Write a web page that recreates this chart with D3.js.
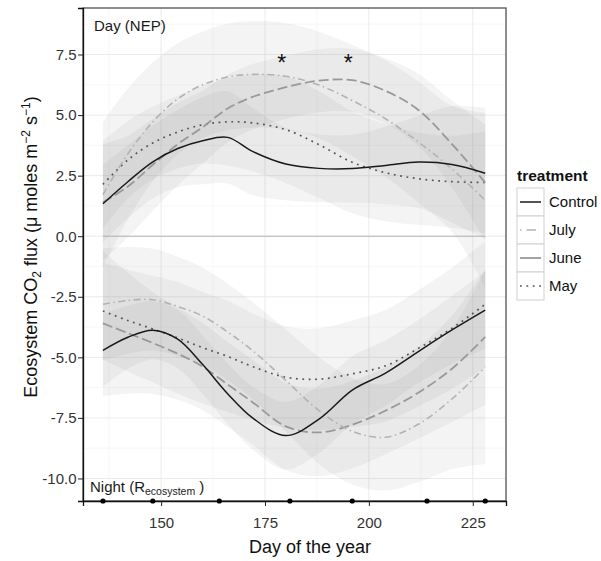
<!DOCTYPE html>
<html>
<head>
<meta charset="utf-8">
<script src="https://cdn.jsdelivr.net/npm/d3@7"></script>
<style>
  body { margin: 0; background: #fff; }
  svg { font-family: "Liberation Sans", Arial, Helvetica, sans-serif; }
</style>
</head>
<body>
<svg id="chart" width="601" height="561"></svg>
<script>
// sample days shared by all smoothed curves
var days = [136, 142, 148, 154, 160, 166, 172, 180, 188, 196, 204, 212, 220, 228];

// daytime NEP (upper half)
var controlDay = [1.34, 2.25, 3.07, 3.62, 3.94, 4.08, 3.50, 2.98, 2.80, 2.79, 2.92, 3.06, 2.96, 2.60];
var julyDay    = [1.72, 3.40, 4.72, 5.67, 6.25, 6.57, 6.68, 6.60, 6.24, 5.60, 4.85, 3.88, 2.78, 1.48];
var juneDay    = [1.40, 2.05, 2.95, 3.80, 4.50, 5.27, 5.75, 6.15, 6.42, 6.44, 6.00, 5.20, 3.80, 2.21];
var mayDay     = [2.14, 3.15, 3.85, 4.30, 4.60, 4.72, 4.68, 4.40, 3.78, 3.05, 2.62, 2.37, 2.25, 2.22];

// confidence half widths, day
var controlDaySe = [1.6, 1.5, 1.5, 1.6, 1.8, 1.9, 1.8, 1.5, 1.4, 1.4, 1.6, 1.9, 2.4, 2.7];
var julyDaySe    = [3.0, 2.7, 2.45, 2.3, 2.2, 2.2, 2.2, 2.2, 2.2, 2.3, 2.4, 2.5, 2.6, 3.6];
var juneDaySe    = [2.4, 2.1, 1.9, 1.7, 1.5, 1.4, 1.35, 1.3, 1.3, 1.3, 1.35, 1.5, 1.8, 2.4];
var mayDaySe     = [1.8, 1.6, 1.5, 1.5, 1.6, 1.8, 2.0, 2.2, 2.2, 2.1, 2.0, 1.9, 1.9, 2.1];

// night respiration (lower half)
var controlNight = [-4.71, -4.17, -3.88, -4.25, -5.30, -6.50, -7.50, -8.23, -7.55, -6.35, -5.65, -4.75, -3.87, -3.05];
var julyNight    = [-2.81, -2.65, -2.62, -2.90, -3.30, -3.95, -4.72, -5.95, -7.20, -8.05, -8.30, -7.75, -6.72, -5.40];
var juneNight    = [-3.60, -4.00, -4.41, -4.85, -5.38, -6.12, -6.85, -7.85, -8.10, -7.78, -7.20, -6.45, -5.47, -4.16];
var mayNight     = [-3.09, -3.48, -3.83, -4.20, -4.60, -4.96, -5.38, -5.82, -5.90, -5.68, -5.35, -4.62, -3.80, -2.81];

var controlNightSe = [1.5, 1.3, 1.2, 1.2, 1.2, 1.25, 1.3, 1.4, 1.4, 1.4, 1.35, 1.3, 1.4, 1.6];
var julyNightSe    = [2.3, 2.2, 2.1, 2.05, 2.0, 2.0, 2.0, 2.1, 2.2, 2.2, 2.2, 2.4, 2.9, 4.0];
var juneNightSe    = [3.0, 2.5, 2.1, 1.9, 1.8, 1.75, 1.75, 1.8, 1.8, 1.8, 1.8, 1.9, 2.2, 2.8];
var mayNightSe     = [2.0, 2.1, 2.2, 2.3, 2.3, 2.3, 2.2, 2.1, 2.1, 2.2, 2.3, 2.4, 2.5, 2.6];

var sampleDays = [136, 148, 164, 181, 196, 214, 228];
var starDays = [179, 195];
var starValue = 7.4;

var treatments = ["Control", "July", "June", "May"];
var xTicks = [150, 175, 200, 225];
var yTicks = [-10, -7.5, -5, -2.5, 0, 2.5, 5, 7.5];

var styles = {
    Control: {stroke: "#1a1a1a", width: 1.5, dash: null},
    July:    {stroke: "#b3b3b3", width: 1.6, dash: "7,3.5,1.5,3.5"},
    June:    {stroke: "#999999", width: 1.8, dash: "10,4"},
    May:     {stroke: "#555555", width: 1.7, dash: "1.8,4.6"}
};

var series = [
    {key: "Control", day: controlDay, daySe: controlDaySe, night: controlNight, nightSe: controlNightSe},
    {key: "July", day: julyDay, daySe: julyDaySe, night: julyNight, nightSe: julyNightSe},
    {key: "June", day: juneDay, daySe: juneDaySe, night: juneNight, nightSe: juneNightSe},
    {key: "May", day: mayDay, daySe: mayDaySe, night: mayNight, nightSe: mayNightSe}
];

var svg = d3.select("#chart");
var panel = {left: 83, top: 8, right: 506, bottom: 501};

var x = d3.scaleLinear().domain([131.2, 233]).range([panel.left, panel.right]);
var y = d3.scaleLinear().domain([-10.93, 9.42]).range([panel.bottom, panel.top]);

svg.append("defs").append("clipPath").attr("id", "panelClip")
    .append("rect")
    .attr("x", panel.left).attr("y", panel.top)
    .attr("width", panel.right - panel.left).attr("height", panel.bottom - panel.top);

// grid
var grid = svg.append("g");
var minorX = [137.5, 162.5, 187.5, 212.5];
var minorY = [-8.75, -6.25, -3.75, -1.25, 1.25, 3.75, 6.25, 8.75];
grid.selectAll(".mx").data(minorX).enter().append("line")
    .attr("x1", d => x(d)).attr("x2", d => x(d))
    .attr("y1", panel.top).attr("y2", panel.bottom)
    .attr("stroke", "#f4f4f4").attr("stroke-width", 0.7);
grid.selectAll(".my").data(minorY).enter().append("line")
    .attr("y1", d => y(d)).attr("y2", d => y(d))
    .attr("x1", panel.left).attr("x2", panel.right)
    .attr("stroke", "#f4f4f4").attr("stroke-width", 0.7);
grid.selectAll(".gx").data(xTicks).enter().append("line")
    .attr("x1", d => x(d)).attr("x2", d => x(d))
    .attr("y1", panel.top).attr("y2", panel.bottom)
    .attr("stroke", "#ebebeb").attr("stroke-width", 1);
grid.selectAll(".gy").data(yTicks).enter().append("line")
    .attr("y1", d => y(d)).attr("y2", d => y(d))
    .attr("x1", panel.left).attr("x2", panel.right)
    .attr("stroke", "#ebebeb").attr("stroke-width", 1);

var plot = svg.append("g").attr("clip-path", "url(#panelClip)");

var curve = d3.curveCatmullRom.alpha(0.5);

function ribbon(vals, se) {
    return d3.area()
        .curve(curve)
        .x((d, i) => x(days[i]))
        .y0((d, i) => y(vals[i] - se[i]))
        .y1((d, i) => y(vals[i] + se[i]))(days);
}

function lineOf(vals) {
    return d3.line()
        .curve(curve)
        .x((d, i) => x(days[i]))
        .y((d, i) => y(vals[i]))(days);
}

// ribbons
series.forEach(function(s) {
    plot.append("path").attr("d", ribbon(s.day, s.daySe))
        .attr("fill", "#808080").attr("fill-opacity", 0.09);
    plot.append("path").attr("d", ribbon(s.night, s.nightSe))
        .attr("fill", "#808080").attr("fill-opacity", 0.09);
});

// zero line
plot.append("line")
    .attr("x1", x(days[0])).attr("x2", x(days[days.length - 1]))
    .attr("y1", y(0)).attr("y2", y(0))
    .attr("stroke", "#b3b3b3").attr("stroke-width", 1);

// curves, drawn May first so Control sits on top
series.slice().reverse().forEach(function(s) {
    var st = styles[s.key];
    [s.day, s.night].forEach(function(vals) {
        plot.append("path").attr("d", lineOf(vals))
            .attr("fill", "none")
            .attr("stroke", st.stroke)
            .attr("stroke-width", st.width)
            .attr("stroke-dasharray", st.dash);
    });
});

// asterisks
svg.selectAll(".star").data(starDays).enter().append("text")
    .attr("x", d => x(d)).attr("y", y(starValue) + 14)
    .attr("text-anchor", "middle")
    .attr("font-size", 23).attr("fill", "#111")
    .text("*");

// panel labels
svg.append("text").attr("x", 94).attr("y", 31)
    .attr("font-size", 15).attr("fill", "#1a1a1a").text("Day (NEP)");
var night = svg.append("text").attr("x", 90).attr("y", 492)
    .attr("font-size", 15).attr("fill", "#1a1a1a");
night.append("tspan").text("Night (R");
night.append("tspan").attr("font-size", 10.5).attr("dy", 3).text("ecosystem");
night.append("tspan").attr("dy", -3).text(" )");

// border
svg.append("rect")
    .attr("x", panel.left).attr("y", panel.top)
    .attr("width", panel.right - panel.left).attr("height", panel.bottom - panel.top)
    .attr("fill", "none").attr("stroke", "#444").attr("stroke-width", 1.2);

// axes
var xAxis = svg.append("g")
    .attr("transform", "translate(0," + panel.bottom + ")")
    .call(d3.axisBottom(x).tickValues(xTicks).tickSize(5).tickPadding(11));
var yAxis = svg.append("g")
    .attr("transform", "translate(" + panel.left + ",0)")
    .call(d3.axisLeft(y).tickValues(yTicks).tickSize(5).tickPadding(1.5)
        .tickFormat(d => d.toFixed(1)));
[xAxis, yAxis].forEach(function(a) {
    a.select(".domain").attr("stroke", "#111").attr("stroke-width", 1.3);
    a.selectAll(".tick line").attr("stroke", "#222");
    a.selectAll(".tick text").attr("font-size", 15).attr("fill", "#333")
        .attr("font-family", "'Liberation Sans', Arial, sans-serif");
});

// sample-day rug on the x axis
svg.selectAll(".rug").data(sampleDays).enter().append("circle")
    .attr("cx", d => x(d)).attr("cy", panel.bottom).attr("r", 2.6)
    .attr("fill", "#000");

// axis titles
svg.append("text").attr("x", 310).attr("y", 553)
    .attr("text-anchor", "middle").attr("font-size", 18).attr("fill", "#111")
    .text("Day of the year");

var yt = svg.append("text")
    .attr("transform", "translate(37,247) rotate(-90)")
    .attr("text-anchor", "middle").attr("font-size", 18).attr("fill", "#111");
yt.append("tspan").text("Ecosystem CO");
yt.append("tspan").attr("font-size", 12).attr("dy", 4).text("2");
yt.append("tspan").attr("dy", -4).text(" flux (\u03bc moles m");
yt.append("tspan").attr("font-size", 12).attr("dy", -7).text("\u22122");
yt.append("tspan").attr("dy", 7).text(" s");
yt.append("tspan").attr("font-size", 12).attr("dy", -7).text("\u22121");
yt.append("tspan").attr("dy", 7).text(")");

// legend
var legend = svg.append("g").attr("transform", "translate(517,188)");
legend.append("text").attr("x", 0).attr("y", -7)
    .attr("font-size", 15.5).attr("font-weight", "bold").attr("fill", "#111")
    .text("treatment");
var keys = legend.selectAll(".key").data(treatments).enter().append("g")
    .attr("transform", (d, i) => "translate(0," + (i * 28) + ")");
keys.append("rect").attr("width", 27).attr("height", 28)
    .attr("fill", "#fff").attr("stroke", "#d0d0d0").attr("stroke-width", 1);
keys.append("line")
    .attr("x1", 3).attr("x2", 24).attr("y1", 14).attr("y2", 14)
    .attr("stroke", d => styles[d].stroke)
    .attr("stroke-width", d => styles[d].width)
    .attr("stroke-dasharray", d => d == "June" ? null : (d == "July" ? "1.5,5,8,0" : styles[d].dash));
keys.append("text").attr("x", 32).attr("y", 19)
    .attr("font-size", 15).attr("fill", "#111")
    .text(d => d);
</script>
</body>
</html>
